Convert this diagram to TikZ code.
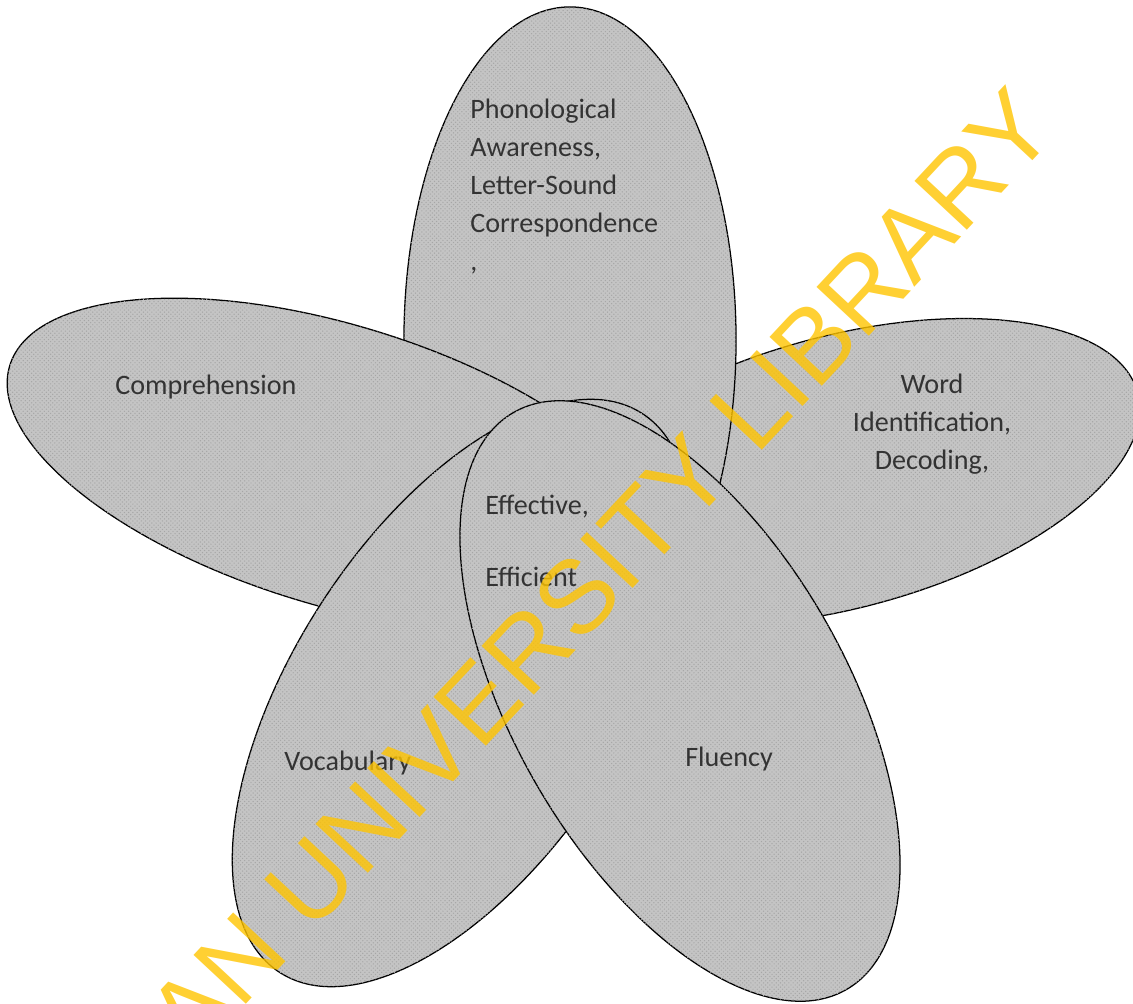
\documentclass[tikz,border=0pt]{standalone}
\usepackage{fontspec}
\setmainfont{Carlito}
\newfontfamily\markfont{Liberation Sans}
\usetikzlibrary{shapes.geometric, patterns}
\definecolor{petalGray}{gray}{0.77}
\definecolor{markYellow}{RGB}{255,196,0}
\tikzstyle{petalShape} = [shape=ellipse, draw=black, line width=0.9pt, 
	fill=petalGray, inner sep=0pt, minimum width=8.3cm, minimum height=16.65cm,
	postaction={pattern=crosshatch dots, pattern color=black!35}]
\tikzstyle{petalText} = [text=black!80, inner sep=0pt, 
	font=\fontsize{20}{27}\selectfont]
\tikzstyle{LeftText} = [petalText, align=left]
\tikzstyle{CenterText} = [petalText, align=center]
\tikzstyle{markText} = [text=markYellow, text opacity=0.8, inner sep=0pt, 
	font=\markfont\fontsize{74}{74}\selectfont]

\begin{document}
\begin{tikzpicture}[x=0.025cm, y=-0.025cm]
  \useasboundingbox (0,0) rectangle (1133,1004);

  \node (WORD) [petalShape, minimum width=6.8cm, minimum height=15.3cm, rotate=-75] at (842,472) {};
  \node (PHON) [petalShape] at (570,340) {};
  \node (COMP) [petalShape, minimum width=7cm, minimum height=17cm, rotate=73] at (335,465) {};
  \node (VOCA) [petalShape, rotate=-33] at (461,693) {};
  \node (FLUE) [petalShape, rotate=30] at (680,701) {};

  \node (TPHON) [LeftText, anchor=north west] at (470,99) {Phonological\\Awareness,\\Letter-Sound\\Correspondence\\,};
  \node (TWORD) [CenterText, anchor=north] at (932,374) {Word\\Identification,\\Decoding,};
  \node (TCOMP) [LeftText, anchor=west] at (115,387) {Comprehension};
  \node (TEFF) [LeftText, anchor=west] at (485,507) {Effective,};
  \node (TEFI) [LeftText, anchor=west] at (485,577) {Efficient};
  \node (TVOCA) [LeftText, anchor=west] at (284,763) {Vocabulary};
  \node (TFLUE) [LeftText, anchor=west] at (685,759) {Fluency};

  \begin{scope}
    \clip (0,0) rectangle (1133,1004);
    \node (MARK) [markText, rotate=47] at (600,572) {AN UNIVERSITY LIBRARY};
  \end{scope}
\end{tikzpicture}
\end{document}
